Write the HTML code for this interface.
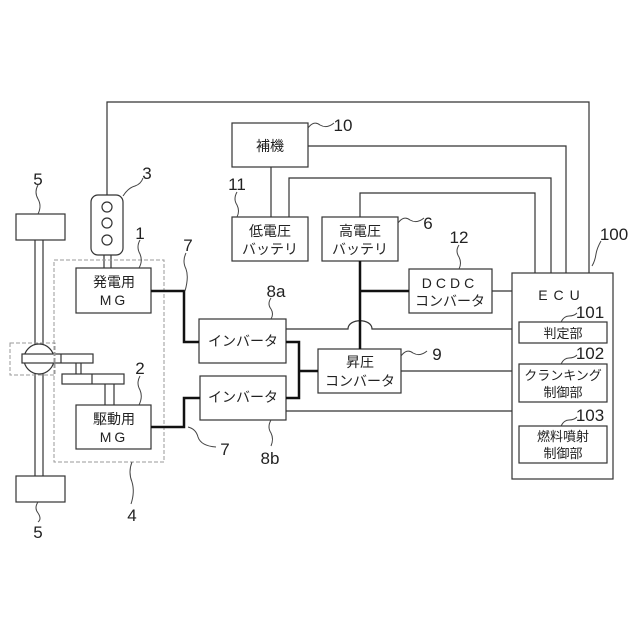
<!DOCTYPE html>
<html><head><meta charset="utf-8"><style>
html,body{margin:0;padding:0;background:#fff}
svg{display:block}
text{font-family:"Liberation Sans","Noto Sans CJK JP",sans-serif;fill:#222}
</style></head><body>
<svg width="640" height="640" viewBox="0 0 640 640" xmlns="http://www.w3.org/2000/svg">
<g fill="none" stroke="#333" stroke-width="1.2">
<polyline points="107,195 107,102 589,102 589,273"/>
<polyline points="308,146 566,146 566,273"/>
<polyline points="289,217 289,178 551,178 551,273"/>
<polyline points="360,217 360,193 535,193 535,273"/>
<line x1="271" y1="167" x2="271" y2="217"/>
<line x1="492" y1="291" x2="512" y2="291"/>
<path d="M286,329 H348 C348,318 372,318 372,329 H512"/>
<line x1="401" y1="371" x2="512" y2="371"/>
<line x1="286" y1="411" x2="512" y2="411"/>
<rect x="232" y="123" width="76" height="44"/>
<rect x="232" y="217" width="76" height="44"/>
<rect x="322" y="217" width="76" height="44"/>
<rect x="409" y="269" width="83" height="44"/>
<rect x="512" y="273" width="101" height="206"/>
<rect x="519" y="322" width="88" height="21"/>
<rect x="519" y="364" width="88" height="38"/>
<rect x="519" y="426" width="88" height="37"/>
<rect x="199" y="319" width="87" height="44"/>
<rect x="200" y="376" width="86" height="44"/>
<rect x="318" y="349" width="83" height="44"/>
<rect x="76" y="268" width="75" height="45"/>
<rect x="76" y="405" width="75" height="44"/>
<rect x="91" y="195" width="32" height="60" rx="7"/>
<circle cx="107" cy="207" r="5"/><circle cx="107" cy="223" r="5"/><circle cx="107" cy="240" r="5"/>
<line x1="104" y1="255" x2="104" y2="268"/><line x1="111" y1="255" x2="111" y2="268"/>
<rect x="16" y="214" width="49" height="26"/>
<rect x="16" y="476" width="49" height="26"/>
<line x1="35" y1="240" x2="35" y2="345"/><line x1="43" y1="240" x2="43" y2="345"/>
<line x1="35" y1="373" x2="35" y2="476"/><line x1="43" y1="373" x2="43" y2="476"/>
<circle cx="39" cy="359" r="15" fill="#fff"/>
<rect x="22" y="354" width="71" height="9" fill="#fff"/>
<line x1="61" y1="354" x2="61" y2="363"/>
<line x1="76" y1="363" x2="76" y2="374"/><line x1="81" y1="363" x2="81" y2="374"/>
<rect x="62" y="374" width="62" height="10"/>
<line x1="92" y1="374" x2="92" y2="384"/>
<line x1="105" y1="384" x2="105" y2="405"/><line x1="114" y1="384" x2="114" y2="405"/>
</g>
<g fill="none" stroke="#999" stroke-width="1" stroke-dasharray="4,2">
<rect x="54" y="260" width="110" height="202"/>
<rect x="10" y="343" width="45" height="32"/>
</g>
<g fill="none" stroke="#111" stroke-width="2.5">
<polyline points="151,291 184,291 184,342 199,342"/>
<polyline points="151,427 184,427 184,398 200,398"/>
<polyline points="286,342 299,342 299,398 286,398"/>
<line x1="299" y1="371" x2="318" y2="371"/>
<line x1="360" y1="261" x2="360" y2="349"/>
<line x1="360" y1="291" x2="409" y2="291"/>
</g>
<g fill="none" stroke="#444" stroke-width="1">
<path d="M38,185 q-4,7 0,14 q4,7 0,15"/>
<path d="M38,502 q-4,6 0,11 q4,6 0,9"/>
<path d="M123,196 q5,-8 12,-10 q6,-2 8,-8"/>
<path d="M140,240 q-4,7 0,14 q3,7 -1,14"/>
<path d="M186,253 q-4,8 0,16 q3,8 -1,22"/>
<path d="M140,376 q-4,7 0,14 q3,7 -1,15"/>
<path d="M188,427 q8,2 10,10 q3,9 18,10"/>
<path d="M132,462 q-4,10 0,20 q3,10 -1,22"/>
<path d="M271,298 q-4,6 0,11 q3,5 0,10"/>
<path d="M271,420 q-4,7 0,13 q3,6 0,13"/>
<path d="M308,128 q6,-8 12,-3 q7,4 14,-2"/>
<path d="M237,192 q-4,7 0,13 q3,6 0,12"/>
<path d="M398,223 q6,-8 12,-3 q7,4 14,-2"/>
<path d="M459,245 q-4,6 0,12 q3,6 0,12"/>
<path d="M401,356 q6,-8 12,-3 q7,4 14,-2"/>
<path d="M601,241 q-4,7 -5,13 q-1,7 -4,12"/>
<path d="M561,322 q3,-6 8,-6 q5,0 8,-3"/>
<path d="M561,364 q3,-6 8,-6 q5,0 8,-3"/>
<path d="M561,426 q3,-6 8,-6 q5,0 8,-3"/>
</g>
<g font-size="17" text-anchor="middle">
<text x="38" y="185">5</text>
<text x="38" y="538">5</text>
<text x="147" y="179">3</text>
<text x="140" y="239">1</text>
<text x="188" y="251">7</text>
<text x="225" y="455">7</text>
<text x="140" y="374">2</text>
<text x="132" y="521">4</text>
<text x="276" y="297">8a</text>
<text x="270" y="464">8b</text>
<text x="343" y="131">10</text>
<text x="237" y="190">11</text>
<text x="428" y="229">6</text>
<text x="459" y="243">12</text>
<text x="614" y="240">100</text>
<text x="437" y="360">9</text>
<text x="590" y="318">101</text>
<text x="590" y="359">102</text>
<text x="590" y="421">103</text>
</g>
<g font-size="14" text-anchor="middle" fill="#333">
<text x="270" y="151">補機</text>
<text x="270" y="236">低電圧</text><text x="270" y="254">バッテリ</text>
<text x="360" y="236">高電圧</text><text x="360" y="254">バッテリ</text>
<text x="450" y="288" letter-spacing="4">DCDC</text><text x="450" y="306">コンバータ</text>
<text x="562" y="300" letter-spacing="6">ECU</text>
<text x="563" y="338" font-size="13">判定部</text>
<text x="563" y="380" font-size="13">クランキング</text><text x="563" y="397" font-size="13">制御部</text>
<text x="563" y="441" font-size="13">燃料噴射</text><text x="563" y="458" font-size="13">制御部</text>
<text x="243" y="346">インバータ</text>
<text x="243" y="402">インバータ</text>
<text x="360" y="367">昇圧</text><text x="360" y="386">コンバータ</text>
<text x="114" y="287">発電用</text><text x="114" y="305" letter-spacing="3">MG</text>
<text x="114" y="424">駆動用</text><text x="114" y="442" letter-spacing="3">MG</text>
</g>
</svg>
</body></html>
